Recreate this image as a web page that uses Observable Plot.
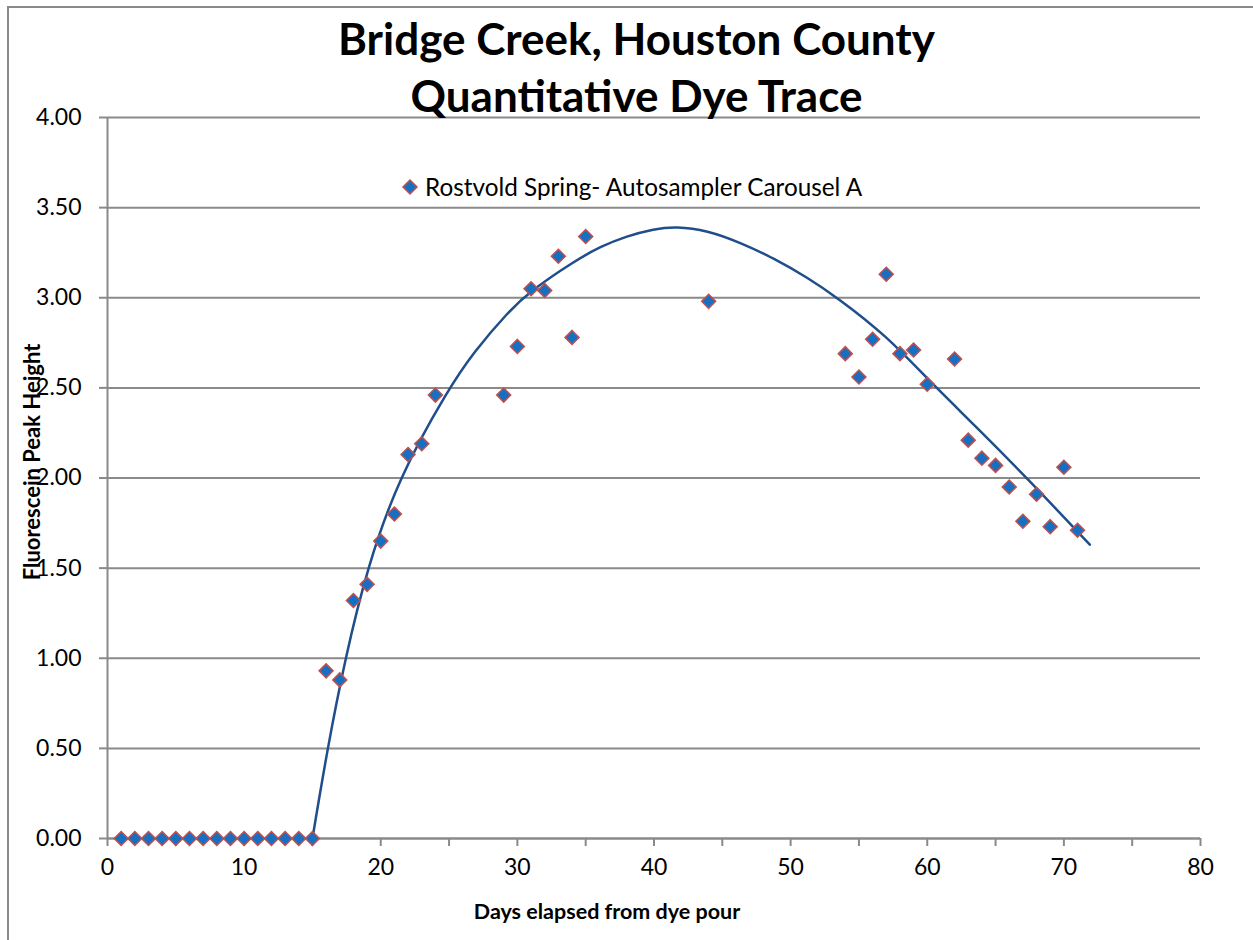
<!DOCTYPE html>
<html>
<head>
<meta charset="utf-8">
<script src="https://cdn.jsdelivr.net/npm/d3@7"></script>
<script src="https://cdn.jsdelivr.net/npm/@observablehq/plot@0.6"></script>
<style>
  body { margin: 0; background: #fff; font-family: Lato, "Open Sans", sans-serif; }
  #wrap { position: relative; width: 1253px; height: 940px; overflow: hidden; }
  #frame { position: absolute; left: 7px; top: 6px; width: 1260px; height: 950px; border-left: 2px solid #8a8a8a; border-top: 2px solid #8a8a8a; }
  #chart { position: absolute; left: 0; top: 0; }
  .title { position: absolute; left: 0; width: 1273px; text-align: center; font-weight: 700; font-size: 44px; color: #000; line-height: 1; white-space: nowrap; }
  #xlabel { position: absolute; left: 307px; width: 600px; text-align: center; top: 901px; font-weight: 700; font-size: 21.5px; line-height: 1; }
  #ylabel { position: absolute; left: 32px; top: 462px; font-weight: 700; font-size: 22px; line-height: 1; transform: translate(-50%, -50%) rotate(-90deg); white-space: nowrap; }
  #legend { position: absolute; left: 401px; top: 172px; font-size: 24.3px; line-height: 1.2; display: flex; align-items: center; gap: 6px; white-space: nowrap; }
</style>
</head>
<body>
<div id="wrap">
  <div id="frame"></div>
  <div id="chart"></div>
  <div class="title" style="top:16px">Bridge Creek, Houston County</div>
  <div class="title" style="top:73px">Quantitative Dye Trace</div>
  <div id="legend"><svg width="18" height="18" viewBox="-9 -9 18 18"><path d="M0,-7L7,0L0,7L-7,0Z" fill="#1570C4" stroke="#C0504D" stroke-width="1.5"/></svg><span>Rostvold Spring- Autosampler Carousel A</span></div>
  <div id="xlabel">Days elapsed from dye pour</div>
  <div id="ylabel">Fluorescein Peak Height</div>
</div>
<script>
// Observed samples (day, fluorescein peak height)
const days = [1,2,3,4,5,6,7,8,9,10,11,12,13,14,15,16,17,18,19,20,21,22,23,24,29,30,31,32,33,34,35,44,54,55,56,57,58,59,60,62,63,64,65,66,67,68,69,70,71];
const heights = [0,0,0,0,0,0,0,0,0,0,0,0,0,0,0,0.93,0.88,1.32,1.41,1.65,1.80,2.13,2.19,2.46,2.46,2.73,3.05,3.04,3.23,2.78,3.34,2.98,2.69,2.56,2.77,3.13,2.69,2.71,2.52,2.66,2.21,2.11,2.07,1.95,1.76,1.91,1.73,2.06,1.71];

// Trendline
const trendDays = [15,16.1,17.4,19.0,21.3,25.0,26.8,29.3,31.0,34.1,36.1,38.0,40.0,41.6,43.9,46.3,48.8,51.2,53.4,57.0,60,63.5,67.3,71.9];
const trendVals = [0,0.5,1.0,1.5,2.0,2.5,2.697,2.92,3.04,3.20,3.285,3.342,3.382,3.396,3.374,3.307,3.218,3.113,3.002,2.79,2.55,2.29,2.00,1.63];

// Axis ticks
const yTicks = [0,0.5,1,1.5,2,2.5,3,3.5,4];
const xTicks = [0,5,10,15,20,25,30,35,40,45,50,55,60,65,70,75,80];

const points = days.map((d, i) => ({day: d, h: heights[i]}));
const trend = trendDays.map((d, i) => ({day: d, h: trendVals[i]}));

const plot = Plot.plot({
  width: 1253,
  height: 940,
  marginLeft: 107,
  marginRight: 53,
  marginTop: 117,
  marginBottom: 102,
  style: { fontFamily: "Lato, 'Open Sans', sans-serif", fontSize: "23px", color: "#000", background: "transparent", overflow: "visible" },
  x: { domain: [0, 80] },
  y: { domain: [0, 4] },
  marks: [
    Plot.gridY(yTicks, { stroke: "#8a8a8a", strokeOpacity: 1, strokeWidth: 2 }),
    Plot.ruleX([0], { stroke: "#8a8a8a", strokeWidth: 2 }),
    Plot.ruleY([0], { stroke: "#8a8a8a", strokeWidth: 2 }),
    Plot.axisY(yTicks, { tickSize: 8, tickPadding: 18, stroke: "#8a8a8a", strokeWidth: 2, tickFormat: d => d.toFixed(2), label: null, fill: "#000" }),
    Plot.axisX(xTicks, { tickSize: 8, tickPadding: 12, stroke: "#8a8a8a", strokeWidth: 2, tickFormat: d => d % 10 === 0 ? String(d) : "", label: null, fill: "#000" }),
    Plot.line(trend, { x: "day", y: "h", curve: "basis", stroke: "#1F4E8A", strokeWidth: 2.5 }),
    Plot.dot(points, { x: "day", y: "h", symbol: "diamond2", r: 6.3, fill: "#1570C4", stroke: "#C0504D", strokeWidth: 1.5 })
  ]
});
document.getElementById("chart").appendChild(plot);
</script>
</body>
</html>
